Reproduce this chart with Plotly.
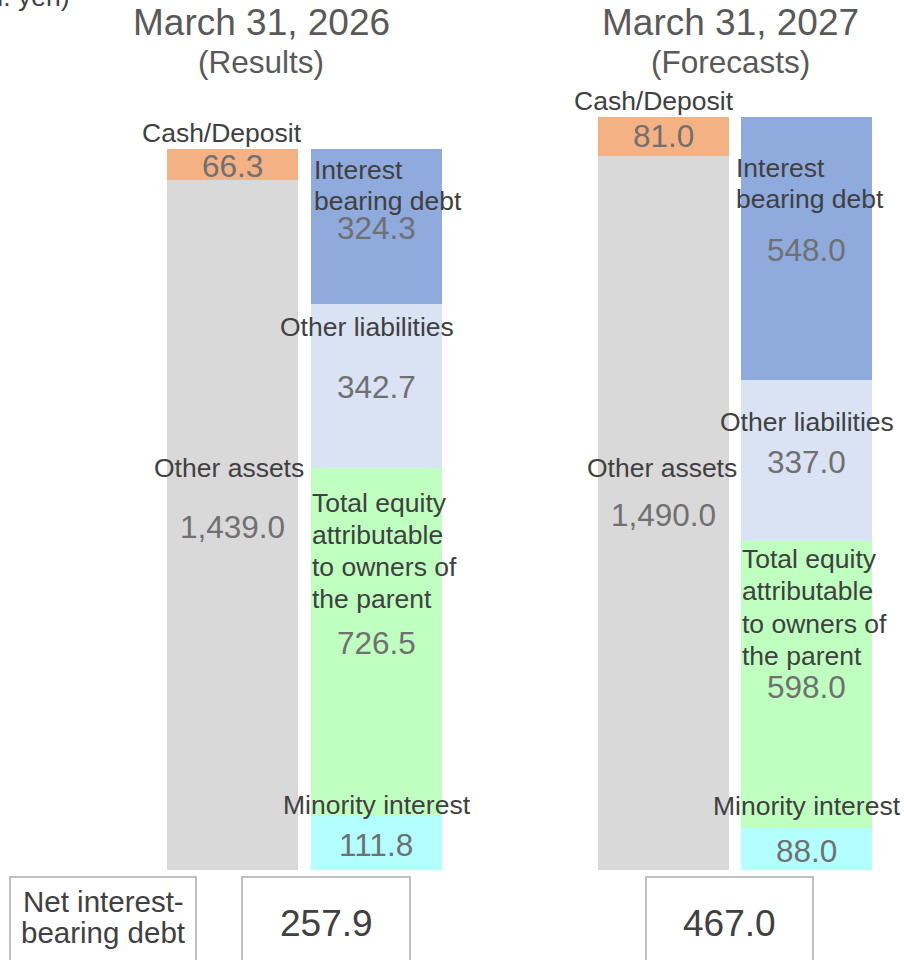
import plotly.graph_objects as go

# Balance sheet composition (billion yen)
periods = ["March 31, 2026", "March 31, 2027"]
period_notes = ["(Results)", "(Forecasts)"]
other_assets = [1439.0, 1490.0]
cash_deposit = [66.3, 81.0]
interest_bearing_debt = [324.3, 548.0]
other_liabilities = [342.7, 337.0]
equity_parent = [726.5, 598.0]
minority_interest = [111.8, 88.0]
net_interest_bearing_debt = [257.9, 467.0]

# ---- layout geometry (pixels) ----
W, H = 904, 960
BASE_PX = 870           # pixel row of the zero line
PX_PER_UNIT = 0.4792    # vertical scale
ASSET_X = [232.3, 663.3]
LIAB_X = [376.3, 806.5]
BAR_W = 131

FONT = "Arial, Liberation Sans, sans-serif"
LABEL_C = "#404040"
VALUE_C = "#707070"
TITLE_C = "#595959"
LBL = 26.5   # category label size
VAL = 31.5   # value label size


def fmt(v):
    return f"{v:,.1f}"


fig = go.Figure()

series = [
    ("Other assets", other_assets, "#D9D9D9", ASSET_X),
    ("Cash/Deposit", cash_deposit, "#F4B183", ASSET_X),
    ("Minority interest", minority_interest, "#B3FFFF", LIAB_X),
    ("Total equity attributable to owners of the parent", equity_parent, "#BFFFBF", LIAB_X),
    ("Other liabilities", other_liabilities, "#DAE3F3", LIAB_X),
    ("Interest bearing debt", interest_bearing_debt, "#8FAADC", LIAB_X),
]
for name, vals, color, xs in series:
    fig.add_trace(go.Bar(
        x=xs, y=vals, width=BAR_W, name=name,
        marker=dict(color=color, line=dict(width=0)),
        hovertemplate=name + ": %{y:,.1f}<extra></extra>",
    ))

annotations = []


def ann(text, x, ypx, size, color, xanchor="center"):
    annotations.append(dict(
        text=text, x=x, xref="x", y=1 - ypx / H, yref="paper",
        xanchor=xanchor, yanchor="middle", showarrow=False,
        font=dict(family=FONT, size=size, color=color),
    ))


# unit note (runs off the top-left edge)
ann("(Unit: bil. yen)", 71, -3, LBL, LABEL_C, xanchor="right")

# period headings
title_x = [261, 730]
for i in range(2):
    ann(periods[i], title_x[i], 23, 37, TITLE_C)
    ann(period_notes[i], title_x[i], 62, 31.5, TITLE_C)

# category labels and values, per period
label_pos = [
    dict(cash_lbl=(222, 133), cash_val=166, oa_lbl=(229, 468), oa_val=527,
         ibd_lines=(312, [170, 201]), ibd_val=228,
         ol_lbl=(367, 327), ol_val=387,
         eq_lines=(310, [503, 535, 567, 599]), eq_val=643,
         mi_lbl=(377, 805), mi_val=845),
    dict(cash_lbl=(654, 101), cash_val=136, oa_lbl=(662, 468), oa_val=515,
         ibd_lines=(734, [168, 199]), ibd_val=250,
         ol_lbl=(807, 422), ol_val=462,
         eq_lines=(740, [559, 591, 624, 656]), eq_val=687,
         mi_lbl=(807, 806), mi_val=851),
]
eq_text = ["Total equity", "attributable", "to owners of", "the parent"]
ibd_text = ["Interest", "bearing debt"]

for i, p in enumerate(label_pos):
    ax, lx = ASSET_X[i], LIAB_X[i]
    ann("Cash/Deposit", p["cash_lbl"][0], p["cash_lbl"][1], LBL, LABEL_C)
    ann(fmt(cash_deposit[i]), ax, p["cash_val"], VAL, VALUE_C)
    ann("Other assets", p["oa_lbl"][0], p["oa_lbl"][1], LBL, LABEL_C)
    ann(fmt(other_assets[i]), ax, p["oa_val"], VAL, VALUE_C)
    for t, yy in zip(ibd_text, p["ibd_lines"][1]):
        ann(t, p["ibd_lines"][0], yy, LBL, LABEL_C, xanchor="left")
    ann(fmt(interest_bearing_debt[i]), lx, p["ibd_val"], VAL, VALUE_C)
    ann("Other liabilities", p["ol_lbl"][0], p["ol_lbl"][1], LBL, LABEL_C)
    ann(fmt(other_liabilities[i]), lx, p["ol_val"], VAL, VALUE_C)
    for t, yy in zip(eq_text, p["eq_lines"][1]):
        ann(t, p["eq_lines"][0], yy, LBL, LABEL_C, xanchor="left")
    ann(fmt(equity_parent[i]), lx, p["eq_val"], VAL, VALUE_C)
    ann("Minority interest", p["mi_lbl"][0], p["mi_lbl"][1], LBL, LABEL_C)
    ann(fmt(minority_interest[i]), lx, p["mi_val"], VAL, VALUE_C)

# net interest-bearing debt boxes
shapes = []
box_spans = [(10, 196), (242, 410), (646, 813)]
for x0, x1 in box_spans:
    shapes.append(dict(
        type="rect", xref="x", yref="paper", x0=x0, x1=x1,
        y0=1 - 965 / H, y1=1 - 877 / H,
        line=dict(color="#BFBFBF", width=2), fillcolor="rgba(0,0,0,0)",
    ))
ann("Net interest-", 103, 901, 29.5, LABEL_C)
ann("bearing debt", 103, 932, 29.5, LABEL_C)
net_x = [326, 729.5]
for i in range(2):
    ann(fmt(net_interest_bearing_debt[i]), net_x[i], 923, 37, LABEL_C)

fig.update_layout(
    width=W, height=H,
    margin=dict(l=0, r=0, t=0, b=0),
    paper_bgcolor="white", plot_bgcolor="white",
    barmode="stack", bargap=0, showlegend=False,
    xaxis=dict(range=[0, W], visible=False, fixedrange=True),
    yaxis=dict(range=[-(H - BASE_PX) / PX_PER_UNIT, BASE_PX / PX_PER_UNIT],
               visible=False, fixedrange=True),
    annotations=annotations, shapes=shapes,
)

fig.write_html("out.html")
